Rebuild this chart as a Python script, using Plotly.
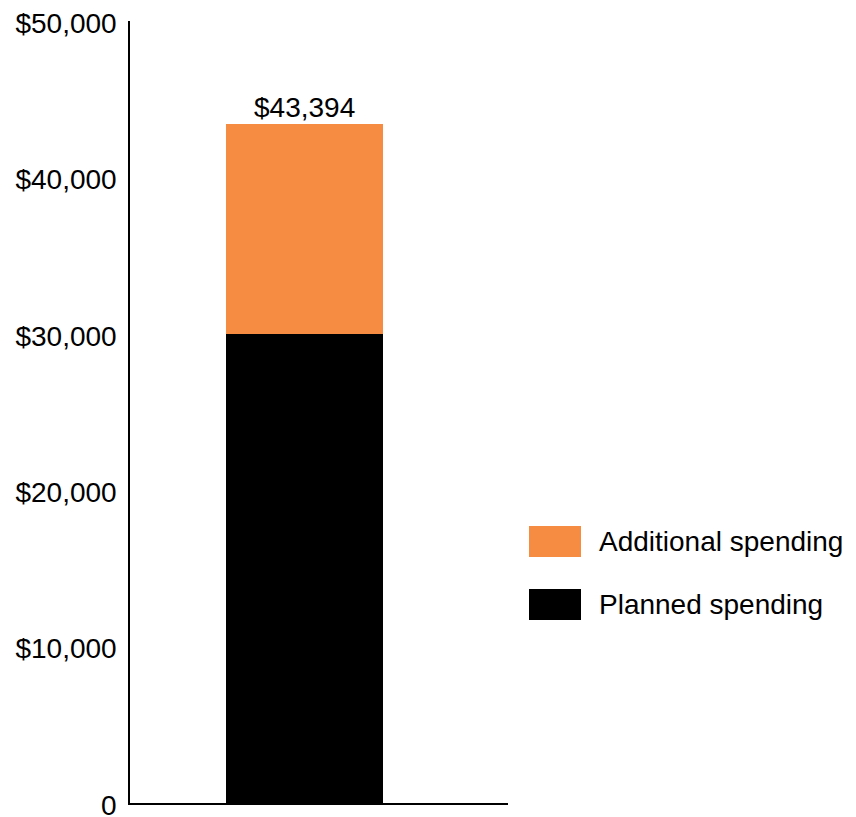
import plotly.graph_objects as go

categories = ["Total"]
planned = [30000]
additional = [13394]
series_names = ["Planned spending", "Additional spending"]
series_colors = ["#000000", "#F68B42"]
tick_vals = [0, 10000, 20000, 30000, 40000, 50000]
tick_text = ["0", "$10,000", "$20,000", "$30,000", "$40,000", "$50,000"]

FONT = "Liberation Sans, Arial, sans-serif"
FS = 28

# page body has an 8px default margin; compensate so the picture lines up
OFF = 8
W, H = 856 - OFF, 817 - OFF
ml, mr, mt, mb = 130 - OFF, 348, 21 - OFF, 14
pw, ph = W - ml - mr, H - mt - mb

fig = go.Figure()
fig.add_trace(go.Bar(x=[0], y=planned, name=series_names[0],
                     marker=dict(color=series_colors[0], line=dict(width=0)), width=0.5))
fig.add_trace(go.Bar(x=[0], y=additional, name=series_names[1],
                     marker=dict(color=series_colors[1], line=dict(width=0)), width=0.5))

total = planned[0] + additional[0]
fig.add_annotation(x=0, y=total, xref="x", yref="y", text=f"${total:,}",
                   showarrow=False, yanchor="bottom", yshift=-1,
                   font=dict(family=FONT, size=FS, color="black"))

# custom legend (large swatches), positions given in window pixels
def px(xw):
    return (xw - OFF - ml) / pw
def py(yw):
    return (OFF + H - mb - yw) / ph
legend_items = [(series_names[1], series_colors[1]), (series_names[0], series_colors[0])]
legend_rows = [(526, 557), (589, 620)]
for (name, color), (y0, y1) in zip(legend_items, legend_rows):
    fig.add_shape(type="rect", xref="paper", yref="paper",
                  x0=px(529), x1=px(581), y0=py(y1), y1=py(y0),
                  fillcolor=color, line=dict(width=0))
    fig.add_annotation(xref="paper", yref="paper", x=px(597), y=py((y0 + y1) / 2),
                       text=name, showarrow=False, xanchor="left", yanchor="middle",
                       font=dict(family=FONT, size=FS, color="black"))

fig.update_layout(
    barmode="stack",
    width=W, height=H,
    margin=dict(l=ml, r=mr, t=mt, b=mb),
    paper_bgcolor="white", plot_bgcolor="white",
    showlegend=False,
    font=dict(family=FONT, size=FS, color="black"),
)
fig.update_xaxes(range=[-0.556, 0.650], showgrid=False, zeroline=False,
                 showticklabels=False, ticks="", showline=True, automargin=False,
                 linecolor="black", linewidth=1.5)
fig.update_yaxes(range=[0, 50000], tickvals=tick_vals, ticktext=tick_text,
                 showgrid=False, zeroline=False, ticks="", showline=True,
                 automargin=False, ticklabeloverflow="allow", ticklabelshift=2,
                 linecolor="black", linewidth=1.5, ticklabelstandoff=6,
                 tickfont=dict(family=FONT, size=FS, color="black"))

fig.write_html("out.html")
